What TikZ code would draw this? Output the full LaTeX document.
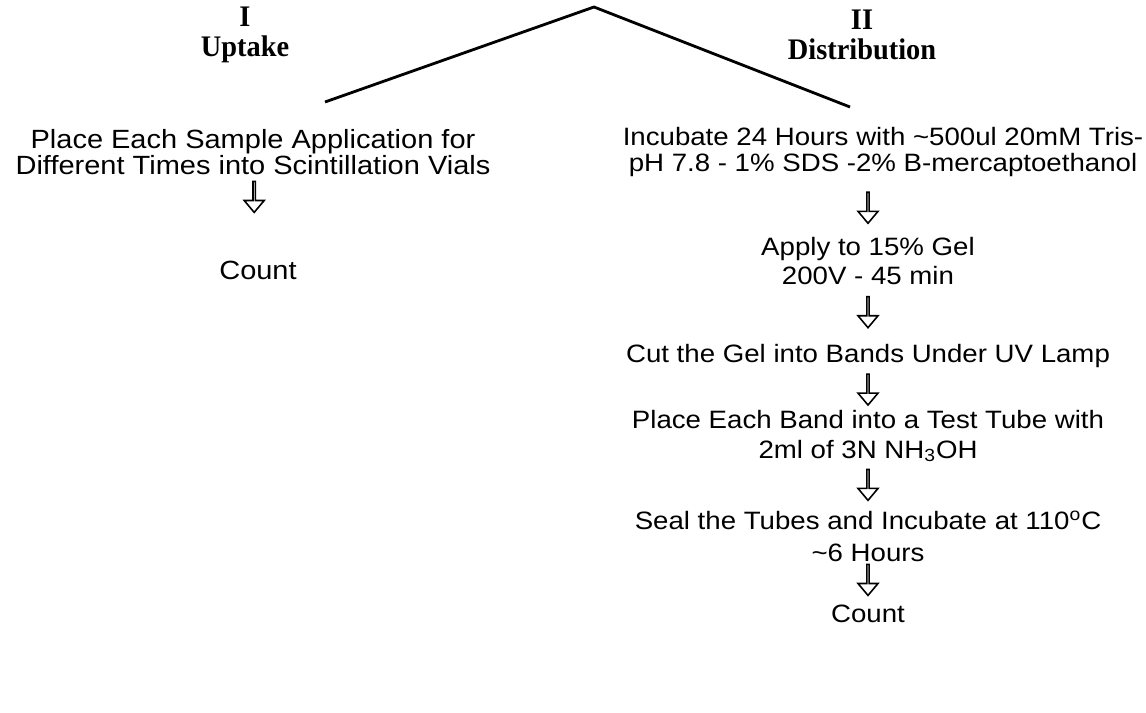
\documentclass[tikz,border=0pt]{standalone}
\usepackage{fontspec}
\setmainfont{Liberation Sans}[FakeStretch=1.1]
\newfontfamily\headfont{Liberation Serif}[FakeStretch=0.95]
\usetikzlibrary{shapes.arrows, positioning}

\begin{document}
\begin{tikzpicture}[
    x=0.02cm, y=-0.02cm,
    heading/.style={font=\headfont\bfseries\fontsize{17}{17.5}\selectfont,
                    align=center, inner sep=1pt},
    stage/.style={font=\fontsize{14.3}{#1}\selectfont, align=center, inner sep=1pt},
    stage/.default=17,
    hollow/.style={single arrow, draw=black, line width=0.9pt, fill=white,
                   rotate=-90, inner sep=0pt,
                   minimum height=0.62cm, minimum width=0.4cm,
                   single arrow head extend=0.12cm, single arrow tip angle=80},
    branch/.style={line width=1.6pt}
]
\useasboundingbox (0,0) rectangle (1146,713);

% Headings
\node[heading] (uptake) at (245,35) {I\\Uptake};
\node[heading] (distr)  at (862,35) {II\\Distribution};

% Branching lines
\coordinate (top)      at (594,7);
\coordinate (leftend)  at (325,102);
\coordinate (rightend) at (850,107);
\draw[branch] (leftend) -- (top) -- (rightend);

% I - Uptake
\node[stage, font=\fontsize{15}{14.5}\selectfont] (place) at (253,152)
    {Place Each Sample Application for\\Different Times into Scintillation Vials};
\node[stage, font=\fontsize{15}{17}\selectfont] (count1) at (258,270) {Count};
\path (place.south) -- node[hollow, pos=0.24] {} (count1.north);

% II - Distribution
\node[stage=14.5] (incub) at (883,152) {Incubate 24 Hours with \textasciitilde500ul 20mM Tris-\\pH 7.8 - 1\% SDS -2\% B-mercaptoethanol};
\node[stage=16] (apply) at (868,261) {Apply to 15\% Gel\\200V - 45 min};
\node[stage] (cut)   at (868,356) {Cut the Gel into Bands Under UV Lamp};
\node[stage=17] (band)  at (868,436) {Place Each Band into a Test Tube with\\2ml of 3N NH\textsubscript{3}OH};
\node[stage=18] (seal)  at (868,536) {Seal the Tubes and Incubate at 110\textsuperscript{o}C\\\textasciitilde6 Hours};
\node[stage] (count2) at (868,614) {Count};

\path (apply.north |- incub.south) -- node[hollow] {} (apply.north);
\path (apply.south) -- node[hollow, pos=0.45] {} (cut.north);
\path (cut.south)   -- node[hollow] {} (band.north);
\path (band.south)  -- node[hollow, pos=0.45] {} (seal.north);
\path (seal.south)  -- node[hollow, pos=0.4] {} (count2.north);

\end{tikzpicture}
\end{document}
